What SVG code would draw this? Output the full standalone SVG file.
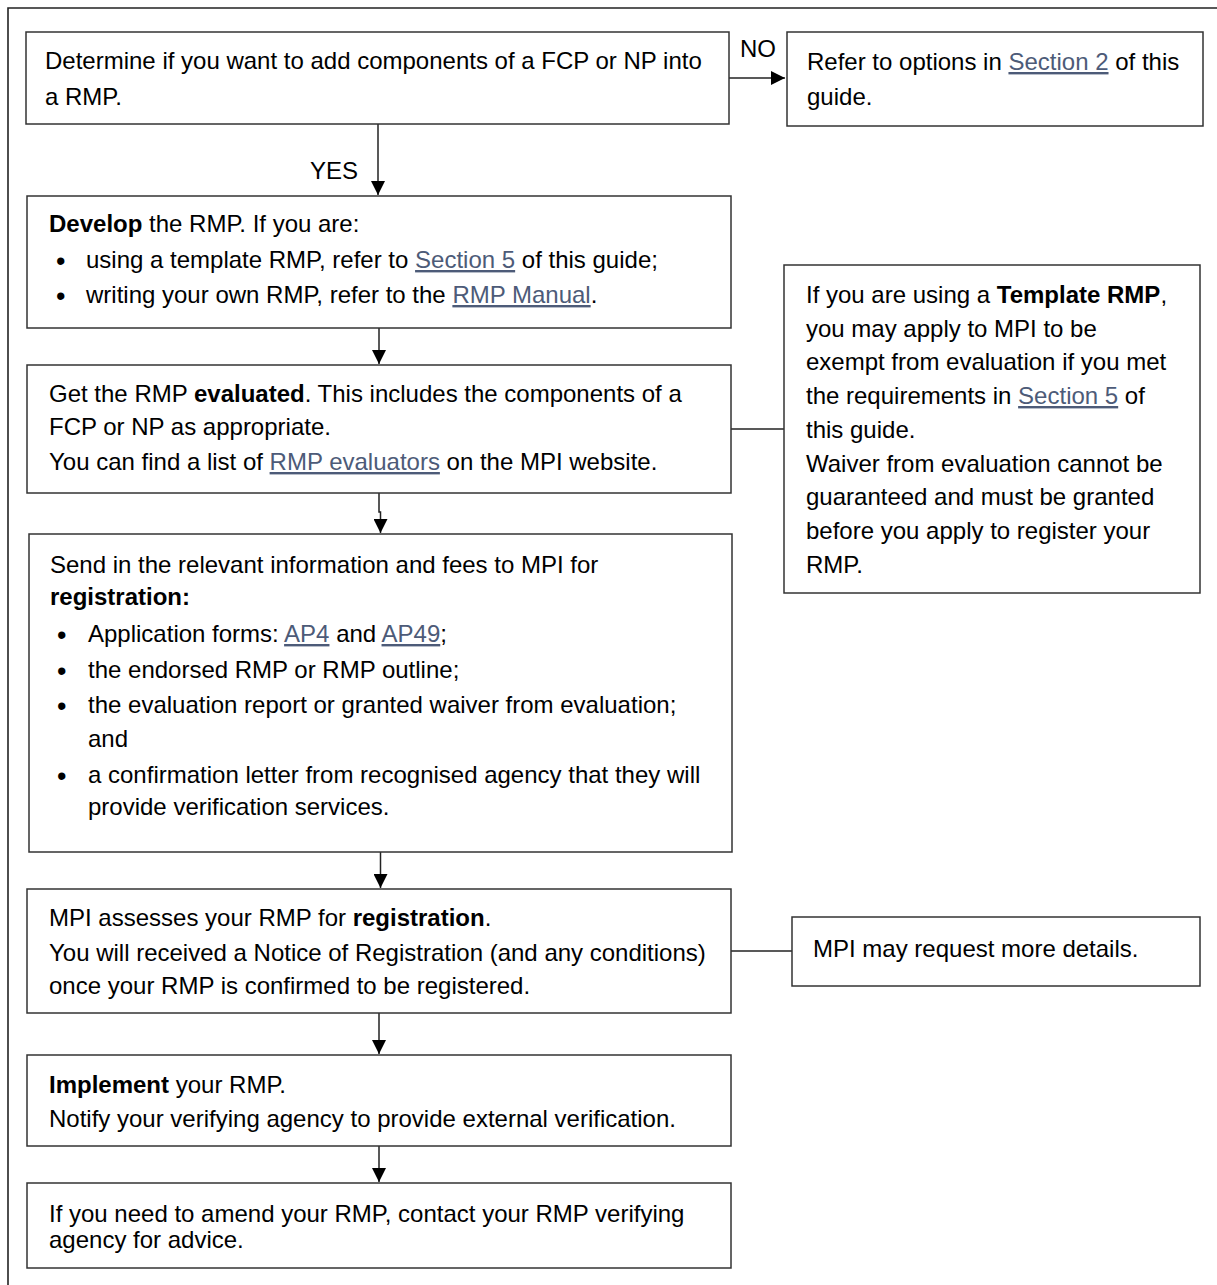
<svg xmlns="http://www.w3.org/2000/svg" width="1217" height="1285" viewBox="0 0 1217 1285">
<style>
.box{fill:#fff;stroke:#333;stroke-width:1.5}
.t{font-family:"Liberation Sans",Arial,sans-serif;font-size:24px;fill:#000}
.b{font-weight:bold}
.lk{fill:#4d5b78;text-decoration:underline}
.bul{font-family:"Liberation Sans",Arial,sans-serif;font-size:27px;fill:#000}
.ln{fill:none;stroke:#222;stroke-width:1.5}
</style>
<defs>
<marker id="ah" viewBox="0 0 10 10" refX="10" refY="5" markerWidth="14" markerHeight="14" markerUnits="userSpaceOnUse" orient="auto">
<path d="M0,0 L10,5 L0,10 Z" fill="#000"/>
</marker>
</defs>
<rect width="1217" height="1285" fill="#fff"/>
<g id="frame">
<path d="M8,1285 V8 H1217" fill="none" stroke="#222" stroke-width="1.6"/>
</g>
<g id="connectors">
<path class="ln" d="M729,78 H785" marker-end="url(#ah)"/>
<path class="ln" d="M378,124 V195" marker-end="url(#ah)"/>
<path class="ln" d="M379,328 V364" marker-end="url(#ah)"/>
<path class="ln" d="M379,493 V512 H380.5 V533" marker-end="url(#ah)"/>
<path class="ln" d="M380.5,852 V888" marker-end="url(#ah)"/>
<path class="ln" d="M379,1013 V1054" marker-end="url(#ah)"/>
<path class="ln" d="M379,1146 V1182" marker-end="url(#ah)"/>
<path class="ln" d="M731,429 H784"/>
<path class="ln" d="M731,951 H792"/>
<text class="t" x="740" y="57">NO</text>
<text class="t" x="310" y="179">YES</text>
</g>
<g id="n1">
<rect class="box" x="26" y="32" width="703" height="92"/>
<text class="t"><tspan x="45" y="69">Determine if you want to add components of a FCP or NP into</tspan><tspan x="45" y="105">a RMP.</tspan></text>
</g>
<g id="n2">
<rect class="box" x="787" y="32" width="416" height="94"/>
<text class="t"><tspan x="807" y="70">Refer to options in </tspan><tspan class="lk">Section 2</tspan><tspan> of this</tspan><tspan x="807" y="105">guide.</tspan></text>
</g>
<g id="n3">
<rect class="box" x="27" y="196" width="704" height="132"/>
<text class="t"><tspan x="49" y="232" class="b">Develop</tspan><tspan> the RMP. If you are:</tspan></text>
<text class="bul" x="56" y="270">•</text>
<text class="t" x="86" y="268">using a template RMP, refer to <tspan class="lk">Section 5</tspan> of this guide;</text>
<text class="bul" x="56" y="305">•</text>
<text class="t" x="86" y="303">writing your own RMP, refer to the <tspan class="lk">RMP Manual</tspan>.</text>
</g>
<g id="n4">
<rect class="box" x="27" y="365" width="704" height="128"/>
<text class="t"><tspan x="49" y="402">Get the RMP </tspan><tspan class="b">evaluated</tspan><tspan>. This includes the components of a</tspan><tspan x="49" y="435">FCP or NP as appropriate.</tspan><tspan x="49" y="470">You can find a list of </tspan><tspan class="lk">RMP evaluators</tspan><tspan> on the MPI website.</tspan></text>
</g>
<g id="n5">
<rect class="box" x="784" y="265" width="416" height="328"/>
<text class="t"><tspan x="806" y="303">If you are using a </tspan><tspan class="b">Template RMP</tspan><tspan>,</tspan><tspan x="806" y="337">you may apply to MPI to be</tspan><tspan x="806" y="370">exempt from evaluation if you met</tspan><tspan x="806" y="404">the requirements in </tspan><tspan class="lk">Section 5</tspan><tspan> of</tspan><tspan x="806" y="438">this guide.</tspan><tspan x="806" y="472">Waiver from evaluation cannot be</tspan><tspan x="806" y="505">guaranteed and must be granted</tspan><tspan x="806" y="539">before you apply to register your</tspan><tspan x="806" y="573">RMP.</tspan></text>
</g>
<g id="n6">
<rect class="box" x="29" y="534" width="703" height="318"/>
<text class="t"><tspan x="50" y="573">Send in the relevant information and fees to MPI for</tspan><tspan x="50" y="605" class="b">registration:</tspan></text>
<text class="bul" x="57" y="644">•</text>
<text class="t" x="88" y="642">Application forms: <tspan class="lk">AP4</tspan> and <tspan class="lk">AP49</tspan>;</text>
<text class="bul" x="57" y="680">•</text>
<text class="t" x="88" y="678">the endorsed RMP or RMP outline;</text>
<text class="bul" x="57" y="715">•</text>
<text class="t"><tspan x="88" y="713">the evaluation report or granted waiver from evaluation;</tspan><tspan x="88" y="747">and</tspan></text>
<text class="bul" x="57" y="785">•</text>
<text class="t"><tspan x="88" y="783">a confirmation letter from recognised agency that they will</tspan><tspan x="88" y="815">provide verification services.</tspan></text>
</g>
<g id="n7">
<rect class="box" x="27" y="889" width="704" height="124"/>
<text class="t"><tspan x="49" y="926">MPI assesses your RMP for </tspan><tspan class="b">registration</tspan><tspan>.</tspan><tspan x="49" y="961">You will received a Notice of Registration (and any conditions)</tspan><tspan x="49" y="994">once your RMP is confirmed to be registered.</tspan></text>
</g>
<g id="n8">
<rect class="box" x="792" y="917" width="408" height="69"/>
<text class="t" x="813" y="957">MPI may request more details.</text>
</g>
<g id="n9">
<rect class="box" x="27" y="1055" width="704" height="91"/>
<text class="t"><tspan x="49" y="1093" class="b">Implement</tspan><tspan> your RMP.</tspan><tspan x="49" y="1127">Notify your verifying agency to provide external verification.</tspan></text>
</g>
<g id="n10">
<rect class="box" x="27" y="1183" width="704" height="85"/>
<text class="t"><tspan x="49" y="1222">If you need to amend your RMP, contact your RMP verifying</tspan><tspan x="49" y="1248">agency for advice.</tspan></text>
</g>
</svg>
